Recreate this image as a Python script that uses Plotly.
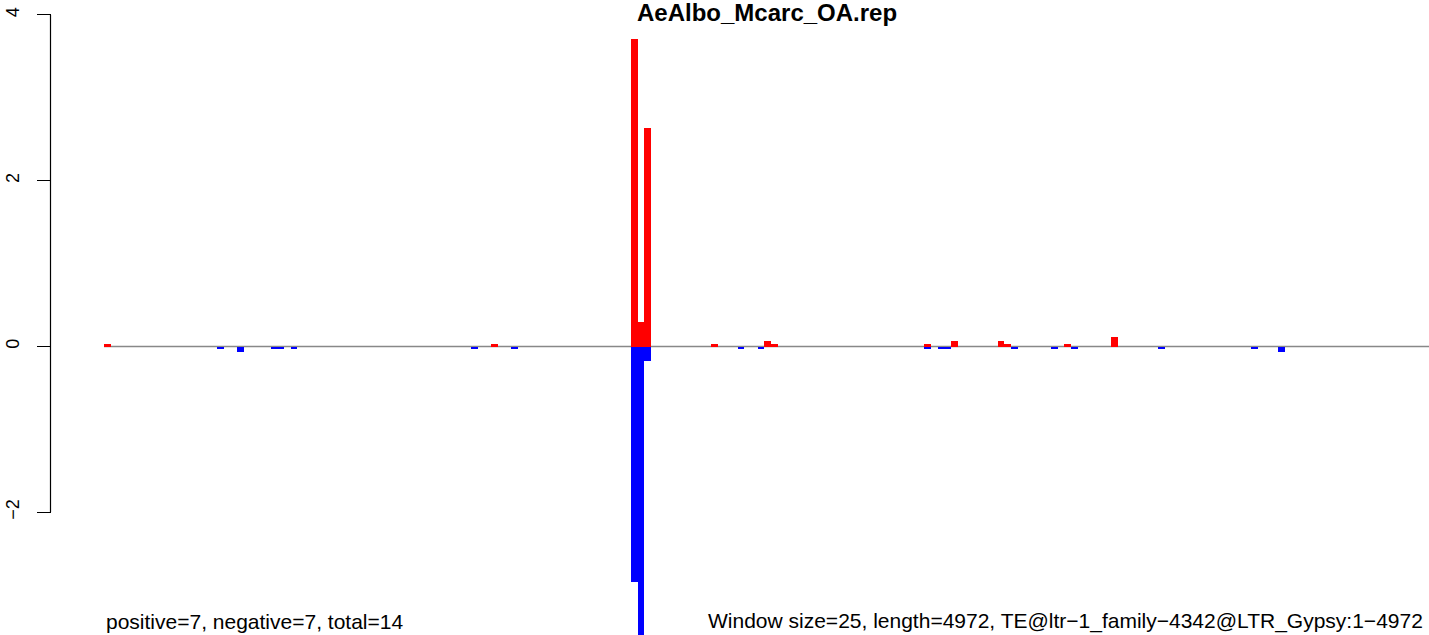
import plotly.graph_objects as go

# ---- data (window index, value) ----
pos_idx = [0, 58, 79, 80, 81, 91, 99, 100, 123, 127, 134, 135, 144, 151]
pos_val = [0.035, 0.035, 3.71, 0.30, 2.63, 0.035, 0.07, 0.035, 0.035, 0.07, 0.07, 0.035, 0.035, 0.11]
neg_idx = [17, 20, 25, 26, 28, 55, 61, 79, 80, 81, 95, 98, 123, 125, 126, 136, 142, 145, 158, 172, 176]
neg_val = [-0.035, -0.07, -0.035, -0.035, -0.035, -0.035, -0.035, -2.84, -3.9, -0.17,
           -0.035, -0.035, -0.035, -0.035, -0.035, -0.035, -0.035, -0.035, -0.035, -0.035, -0.07]
n_windows = 199
y_ticks = [-2, 0, 2, 4]
title_text = "AeAlbo_Mcarc_OA.rep"
left_note = "positive=7, negative=7, total=14"
right_note = "Window size=25, length=4972, TE@ltr\u22121_family\u22124342@LTR_Gypsy:1\u22124972"

W, H = 1429, 635
FONT = "Liberation Sans, Arial, sans-serif"

fig = go.Figure()
fig.add_trace(go.Bar(x=[i + 0.5 for i in pos_idx], y=pos_val, width=1,
                     marker=dict(color="#FF0000", line=dict(width=0)), showlegend=False))
fig.add_trace(go.Bar(x=[i + 0.5 for i in neg_idx], y=neg_val, width=1,
                     marker=dict(color="#0000FF", line=dict(width=0)), showlegend=False))

axis_x = 50.5 / W
# zero line
fig.add_shape(type="line", xref="x", yref="y", x0=0, x1=n_windows, y0=0, y1=0,
              line=dict(color="#888888", width=1.5), layer="below")
# R-style y axis line spanning tick range
fig.add_shape(type="line", xref="paper", yref="y", x0=axis_x, x1=axis_x,
              y0=min(y_ticks), y1=max(y_ticks), line=dict(color="black", width=1.2))

fig.add_annotation(text="<b>" + title_text + "</b>", xref="paper", yref="paper",
                   x=767 / W, y=1, xanchor="center", yanchor="top", yshift=3,
                   showarrow=False, font=dict(family=FONT, size=24, color="black"))
fig.add_annotation(text=left_note, xref="paper", yref="paper",
                   x=104 / W, y=0, xanchor="left", yanchor="bottom",
                   showarrow=False, font=dict(family=FONT, size=21, color="black"))
fig.add_annotation(text=right_note, xref="paper", yref="paper",
                   x=706 / W, y=0, xanchor="left", yanchor="bottom",
                   showarrow=False, font=dict(family=FONT, size=21, color="black"))

px_per_win = 6.67
fig.update_layout(
    width=W, height=H,
    margin=dict(l=0, r=0, t=0, b=0),
    paper_bgcolor="white", plot_bgcolor="white",
    barmode="overlay", bargap=0,
    font=dict(family=FONT, color="black"),
    xaxis=dict(range=[-104 / px_per_win, (W - 104) / px_per_win], visible=False,
               showgrid=False, zeroline=False),
    yaxis=dict(range=[(346.5 - H) / 82.9, 346.5 / 82.9], anchor="free", position=axis_x,
               side="left", showgrid=False, zeroline=False, showline=False,
               ticks="outside", ticklen=14, tickwidth=1.2, tickcolor="black",
               tickvals=y_ticks, ticktext=[str(v).replace("-", "\u2212") for v in y_ticks],
               tickangle=-90, ticklabelstandoff=10, automargin=False,
               tickfont=dict(family=FONT, size=18, color="black")),
)

fig.write_html("out.html", config={"displayModeBar": False},
               post_script="document.body.style.margin='0';document.body.style.overflow='hidden';")
